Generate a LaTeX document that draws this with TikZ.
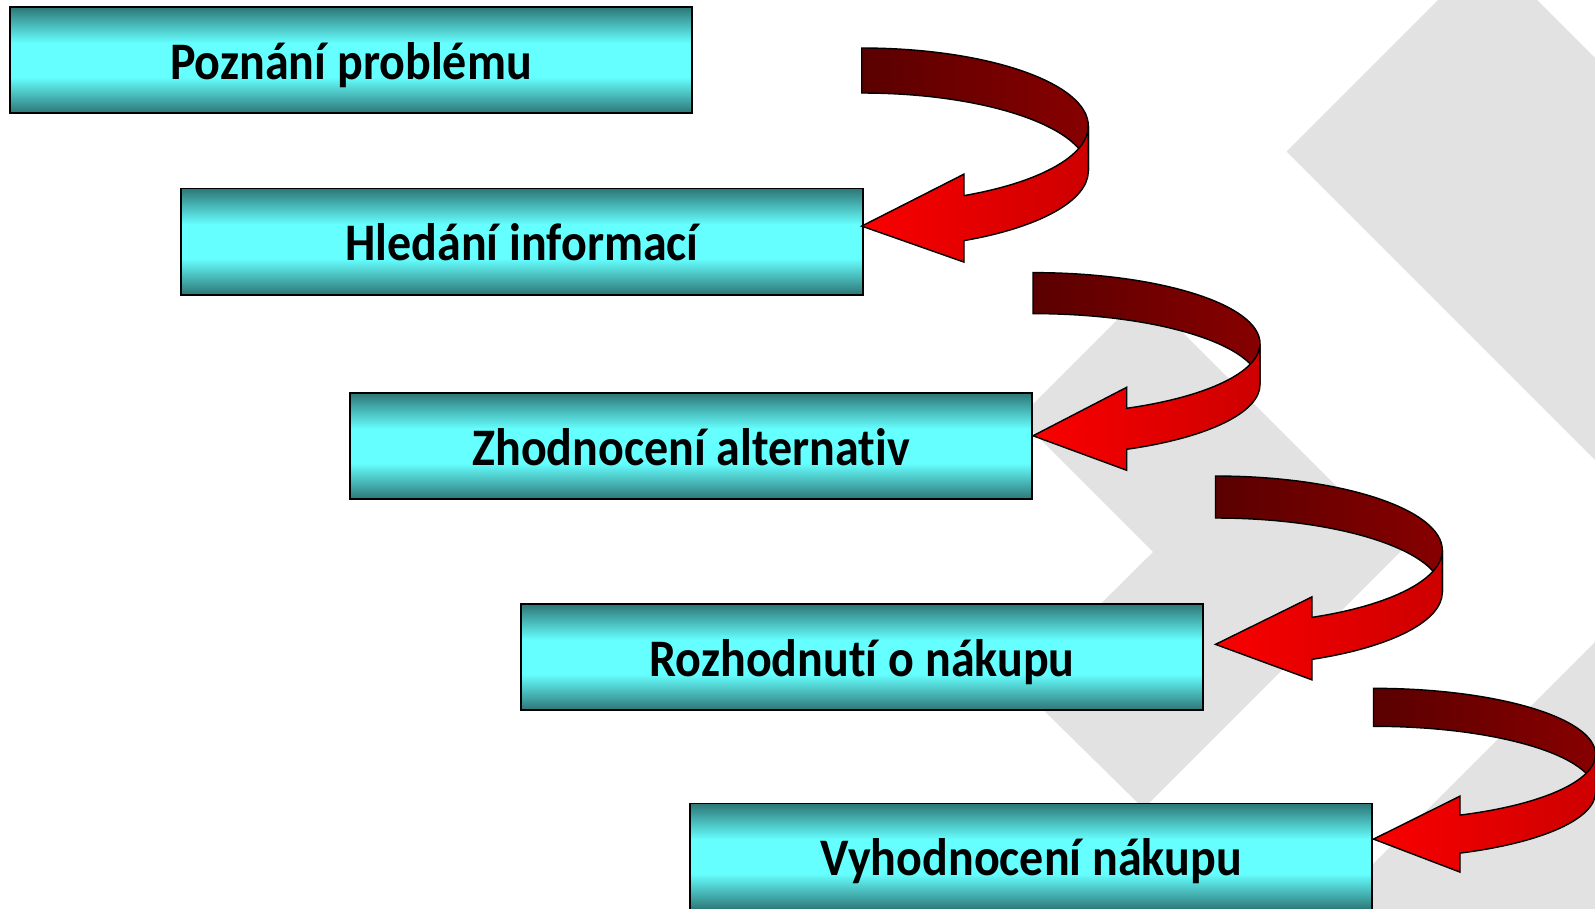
\documentclass[tikz,border=0pt]{standalone}
\usepackage{fontspec}
\setmainfont{Carlito}[FakeStretch=0.91, Ligatures=NoCommon]
\usetikzlibrary{calc}
\definecolor{tealdark}{RGB}{45,118,118}
\definecolor{cyanlight}{RGB}{102,255,255}
\definecolor{backdark}{RGB}{90,0,0}
\definecolor{backlight}{RGB}{135,0,0}
\definecolor{frontdark}{RGB}{205,0,0}
\definecolor{frontlight}{RGB}{250,0,0}
\definecolor{chevron}{RGB}{225,226,225}

\pgfdeclareverticalshading{boxshade}{100bp}{%
  color(0bp)=(tealdark); color(25bp)=(tealdark);
  color(42bp)=(cyanlight); color(58bp)=(cyanlight);
  color(75bp)=(tealdark); color(100bp)=(tealdark)}

% #1 tail x, #2 top-edge centre y, #3/#4 radii, #5 ribbon height,
% #6 head length, #7 barb, #8 tip drop
\newcommand{\ribbonarrow}[8]{%
  \pgfmathsetmacro{\headang}{acos(#6/#3)}%
  \pgfmathsetmacro{\heady}{#4*sin(\headang)}%
  \draw[ribbonback] (#1,#2-#4)
      arc[start angle=-90, end angle=0, x radius=#3, y radius=#4]
      -- ++(0,#5)
      arc[start angle=0, end angle=-90, x radius=#3, y radius=#4] -- cycle;
  \draw[ribbonfront] (#1+#3,#2)
      arc[start angle=0, end angle=\headang, x radius=#3, y radius=#4]
      -- ++(0,-#7) -- (#1,#2+#5/2+\heady+#8)
      -- (#1+#6,#2+#5+\heady+#7) -- ++(0,-#7)
      arc[start angle=\headang, end angle=0, x radius=#3, y radius=#4]
      -- cycle;
}

\begin{document}
\begin{tikzpicture}[
    x=0.01cm, y=-0.01cm,
    stepbox/.style={rectangle, draw=black, line width=0.55pt,
                    shade, shading=boxshade,
                    minimum width=6.82cm, minimum height=1.06cm,
                    inner sep=0pt, text height=11pt, text depth=0pt,
                    font=\bfseries\fontsize{15}{18}\selectfont},
    ribbonback/.style={draw=black, line width=0.4pt,
                       left color=backdark, right color=backlight},
    ribbonfront/.style={draw=black, line width=0.4pt,
                        left color=frontlight, right color=frontdark},
    chev/.style={fill=chevron, draw=none},
]
\useasboundingbox (0,0) rectangle (1595,908);
\fill[white] (0,0) rectangle (1595,908);
\begin{scope}
\clip (0,0) rectangle (1595,908);

% ==========================================================
% Grey chevrons in the background
% ==========================================================
\fill[chev] (1143.5,293.5) -- (1401,551) -- (1143.5,808.5)
    -- (1018.5,685.5) -- (1153,552) -- (1019,418) -- cycle;
\fill[chev] (1487.5,-49.5) -- (2088,551) -- (1486,1153)
    -- (1285,952) -- (1686,551) -- (1286.5,151.5) -- cycle;

% ==========================================================
% Steps of the buying process
% ==========================================================
\node[stepbox] (poznani)     at (351,60)    {Poznání problému};
\node[stepbox] (hledani)     at (522,241.5) {Hledání informací};
\node[stepbox] (zhodnoceni)  at (691,446)   {Zhodnocení alternativ};
\node[stepbox] (rozhodnuti)  at (862,657)   {Rozhodnutí o nákupu};
\node[stepbox] (vyhodnoceni) at (1031,856.5) {Vyhodnocení nákupu};

% -------- curved arrows between the steps -----------
\ribbonarrow{861.7}{126}{226.6}{78}{45}{102.3}{21.5}{8}
\ribbonarrow{1033}{343.6}{227}{71}{41}{93.7}{21}{7}
\ribbonarrow{1215.5}{550.2}{226.8}{74.2}{42}{96.5}{20.5}{6}
\ribbonarrow{1373.5}{754.3}{222}{66}{38}{86.5}{19}{5}
\end{scope}

\end{tikzpicture}
\end{document}
